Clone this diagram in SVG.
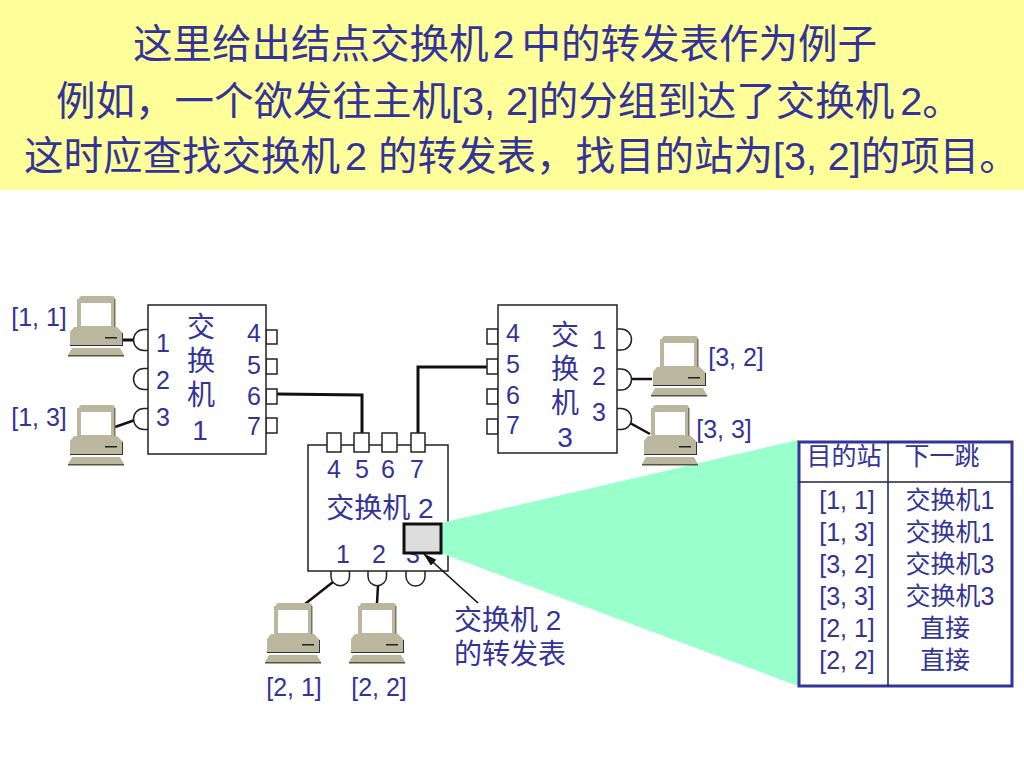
<svg xmlns="http://www.w3.org/2000/svg" width="1024" height="768" viewBox="0 0 1024 768">
<style>
text{font-family:"Liberation Sans","Noto Sans CJK SC",sans-serif;fill:#333399;font-size:25px;text-anchor:middle}
.t{font-size:39.5px;text-anchor:start}
.c{font-size:28px}
.st{text-anchor:start}
.s{fill:#fff;stroke:#222;stroke-width:1.5}
.k{fill:none;stroke:#111;stroke-width:3}
.n{fill:none;stroke:#111;stroke-width:2.5}
.g{fill:#B9B89F}
</style>
<defs>
<g id="pc">
<path d="M11 3Q11 0 14 0H44Q47 0 47 3V31H9V3Z" class="g"/>
<rect x="46" y="3" width="1.500" height="28" fill="#77775f"/>
<rect x="13" y="7" width="30" height="23" fill="#fff"/>
<path d="M6 31H49L55 37V50H2V36Z" class="g"/>
<path d="M2 50H55V37L54 37V49H2Z" fill="#333"/>
<rect x="37" y="41" width="12" height="1.5" fill="#222"/>
<path d="M4 52H52L56 59H0Z" class="g"/>
<rect x="0" y="59" width="56" height="1.5" fill="#55553f"/>
</g>
<marker id="ah" markerWidth="14" markerHeight="10" refX="13" refY="4" orient="auto" markerUnits="userSpaceOnUse"><path d="M0 0L14 4L0 8Z" fill="#111"/></marker>
</defs>
<rect id="header" x="0" y="0" width="1024" height="190" fill="#FFFF99"/>
<g id="title">
<text class="t" x="133" y="58">这里给出结点交换机<tspan dx="4">2</tspan><tspan dx="7">中的转发表作为例子</tspan></text>
<text class="t" x="56" y="115">例如，一个欲发往主机[3, 2]的分组到达了交换机<tspan dx="6">2</tspan>。</text>
<text class="t" x="24" y="170">这时应查找交换机<tspan dx="5">2</tspan><tspan dx="11">的转发表，找目的站为[3, 2]的项目。</tspan></text>
</g>
<g id="connectors">
<path class="k" d="M277 394L362 395V433"/>
<path class="k" d="M487 367H418V433"/>
<path class="k" d="M122 340H134"/>
<path class="n" d="M115 427L135 420"/>
<path class="n" d="M305 604L333 582"/>
<path class="n" d="M377 603L378 586"/>
<path class="n" d="M631 379H652"/>
<path class="n" d="M630 423L650 434"/>
</g>
<g id="switch1">
<path class="s" d="M148 329.500H144a10.500 10.500 0 0 0 0 21H148"/>
<path class="s" d="M148 368.500H144a10.500 10.500 0 0 0 0 21H148"/>
<path class="s" d="M148 408.500H144a10.500 10.500 0 0 0 0 21H148"/>
<rect class="s" x="266" y="330" width="11" height="14"/>
<rect class="s" x="266" y="359" width="11" height="15"/>
<rect class="s" x="266" y="389" width="11" height="15"/>
<rect class="s" x="266" y="418" width="11" height="15"/>
<rect class="s" x="148" y="305" width="118" height="149"/>
<text x="163" y="352">1</text><text x="163" y="389">2</text><text x="163" y="426">3</text>
<text class="c" x="201" y="337">交</text><text class="c" x="201" y="371">换</text><text class="c" x="201" y="405">机</text><text class="c" x="200" y="440">1</text>
<text x="254" y="342">4</text><text x="254" y="374">5</text><text x="254" y="405">6</text><text x="254" y="435">7</text>
</g>
<g id="switch3">
<rect class="s" x="487" y="329" width="11" height="15"/>
<rect class="s" x="487" y="359" width="11" height="15"/>
<rect class="s" x="487" y="389" width="11" height="15"/>
<rect class="s" x="487" y="419" width="11" height="15"/>
<path class="s" d="M617 329H621a10.500 10.500 0 0 1 0 21H617"/>
<path class="s" d="M617 369H621a10.500 10.500 0 0 1 0 21H617"/>
<path class="s" d="M617 408.500H621a10.500 10.500 0 0 1 0 21H617"/>
<rect class="s" x="498" y="305" width="119" height="148"/>
<text x="513" y="342">4</text><text x="513" y="373">5</text><text x="513" y="404">6</text><text x="513" y="434">7</text>
<text class="c" x="565" y="345">交</text><text class="c" x="565" y="379">换</text><text class="c" x="565" y="413">机</text><text class="c" x="565" y="447">3</text>
<text x="599" y="349">1</text><text x="599" y="385">2</text><text x="599" y="421">3</text>
</g>
<g id="switch2">
<path class="s" d="M331 571V576.500a9.250 9.250 0 0 0 18.500 0V571"/>
<path class="s" d="M368 571V576.500a9.250 9.250 0 0 0 18.500 0V571"/>
<path class="s" d="M406 571V576.500a9.500 9.500 0 0 0 19 0V571"/>
<rect class="s" x="308" y="445" width="140" height="126"/>
<rect class="s" x="327" y="433" width="14" height="19"/>
<rect class="s" x="354" y="433" width="15" height="19"/>
<rect class="s" x="382" y="433" width="15" height="19"/>
<rect class="s" x="411" y="433" width="14" height="19"/>
<text x="334" y="478">4</text><text x="362" y="478">5</text><text x="388" y="478">6</text><text x="417" y="478">7</text>
<text class="c" x="380" y="518">交换机 2</text>
<text x="343" y="563">1</text><text x="379" y="563">2</text><text x="413" y="563">3</text>
</g>
<polygon id="beam" points="441,523 798,440 798,686 441,553" fill="#99FFCC"/>
<rect id="table-box" x="404" y="524" width="37" height="29" fill="#DDDDDD" stroke="#111" stroke-width="3"/>
<path id="table-arrow" stroke="#111" stroke-width="1.6" fill="none" marker-end="url(#ah)" d="M478 603L424 554"/>
<g id="table-label">
<text class="c st" x="454" y="630">交换机 2</text>
<text class="c st" x="454" y="664">的转发表</text>
</g>
<g id="pc11"><use href="#pc" x="68" y="296"/><text x="39" y="326">[1, 1]</text></g>
<g id="pc13"><use href="#pc" x="68" y="405"/><text x="39" y="426">[1, 3]</text></g>
<g id="pc21"><use href="#pc" x="265" y="603"/><text x="294" y="696">[2, 1]</text></g>
<g id="pc22"><use href="#pc" x="349" y="603"/><text x="379" y="696">[2, 2]</text></g>
<g id="pc32"><use href="#pc" x="651" y="336"/><text x="736" y="366">[3, 2]</text></g>
<g id="pc33"><use href="#pc" x="642" y="405"/><text x="724" y="438">[3, 3]</text></g>
<g id="table">
<rect x="799" y="442" width="213" height="244" fill="#fff" stroke="#333399" stroke-width="3"/>
<path d="M799 482H1012M888 442V686" stroke="#222244" stroke-width="1.500" fill="none"/>
<text x="844" y="465">目的站</text><text x="942" y="465">下一跳</text>
<text x="847" y="509">[1, 1]</text><text x="950" y="509">交换机1</text>
<text x="847" y="541">[1, 3]</text><text x="950" y="541">交换机1</text>
<text x="847" y="573">[3, 2]</text><text x="950" y="573">交换机3</text>
<text x="847" y="605">[3, 3]</text><text x="950" y="605">交换机3</text>
<text x="847" y="637">[2, 1]</text><text x="945" y="637">直接</text>
<text x="847" y="669">[2, 2]</text><text x="945" y="669">直接</text>
</g>
</svg>
